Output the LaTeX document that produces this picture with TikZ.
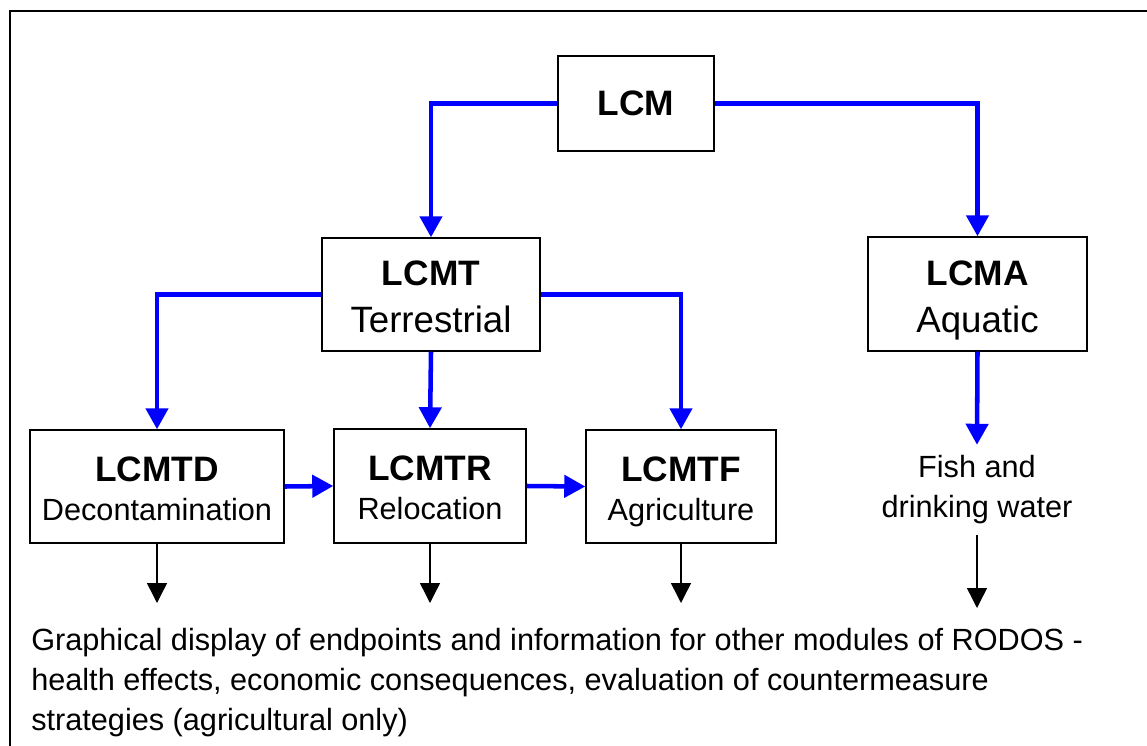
\documentclass[tikz,border=0pt]{standalone}
\usepackage{fontspec}
\setmainfont{Liberation Sans}
\usetikzlibrary{arrows.meta}
% bold name over a plain line; #3 = room above the first line, #4 = room below the second
\newcommand{\modlabel}[4]{\rule{0pt}{#3}{\fontsize{26.5}{30}\selectfont\bfseries #1}\\#2\rule[-#4]{0pt}{#4}}

\begin{document}
\begin{tikzpicture}[x=0.75pt,y=0.75pt,yscale=-1,xscale=1,
  module/.style={draw,line width=1.1pt,inner sep=0pt,align=center},
  upper/.style={module,font=\fontsize{27.5}{35.25}\selectfont},
  lower/.style={module,font=\fontsize{23}{29.25}\selectfont},
  feed/.style={color={rgb, 255:red, 0; green, 0; blue, 255},line width=3.4pt,-{Triangle[length=15.75pt,width=16.5pt]}},
  result/.style={line width=1.1pt,-{Triangle[length=15pt,width=15pt]}}]
\useasboundingbox (0,0) rectangle (1147,746);

%Shape: Rectangle (frame, runs off the page on the right and bottom)
\draw [line width=1.5pt] (10,11) rectangle (1180,780);

% Text Node
\node [module,minimum width=117pt,minimum height=71.25pt,font=\fontsize{26.5}{32}\selectfont\bfseries] (LCM) at (636,103.5) {LCM};
% Text Node
\node [upper,minimum width=163.5pt,minimum height=84.75pt] (LCMT) at (431,294.5) {\modlabel{LCMT}{Terrestrial}{28.75pt}{7pt}};
% Text Node
\node [upper,minimum width=164.25pt,minimum height=85.5pt] (LCMA) at (977.5,294) {\modlabel{LCMA}{Aquatic}{28.75pt}{7pt}};
% Text Node
\node [lower,minimum width=190.5pt,minimum height=84.75pt] (LCMTD) at (157,486.5) {\modlabel{LCMTD}{Decontamination}{27pt}{6pt}};
% Text Node
\node [lower,minimum width=144pt,minimum height=85.5pt] (LCMTR) at (430,486) {\modlabel{LCMTR}{Relocation}{27pt}{6pt}};
% Text Node
\node [lower,minimum width=142.5pt,minimum height=84.75pt] (LCMTF) at (681,486.5) {\modlabel{LCMTF}{Agriculture}{27pt}{6pt}};
% Text Node
\node [align=center,inner sep=8pt,font=\fontsize{23}{30}\selectfont] (water) at (977,490) {Fish and\\drinking water};
% Text Node
\node [anchor=north west,align=left,inner sep=0pt,font=\fontsize{23}{30}\selectfont] (endpoints) at (31,628) {Graphical display of endpoints and information for other modules of RODOS -\\health effects, economic consequences, evaluation of countermeasure\\strategies (agricultural only)};

% ends of the output arrows
\coordinate (endTD) at (157,603);
\coordinate (endTR) at (430,603);
\coordinate (endTF) at (681,603);
\coordinate (endW) at (977,608);

%Straight Lines (blue)
\draw [feed] (LCM.west) -| (LCMT.north);
\draw [feed] (LCM.east) -| (LCMA.north);
\draw [feed] (LCMT.west) -| (LCMTD.north);
\draw [feed] (LCMT.south) -- (LCMTR.north);
\draw [feed] (LCMT.east) -| (LCMTF.north);
\draw [feed] (LCMA.south) -- (water.north);
\draw [feed] (LCMTD.east) -- (LCMTR.west);
\draw [feed] (LCMTR.east) -- (LCMTF.west);

%Straight Lines (black)
\draw [result] (LCMTD.south) -- (endTD);
\draw [result] (LCMTR.south) -- (endTR);
\draw [result] (LCMTF.south) -- (endTF);
\draw [result] (water.south) -- (endW);
\end{tikzpicture}
\end{document}
